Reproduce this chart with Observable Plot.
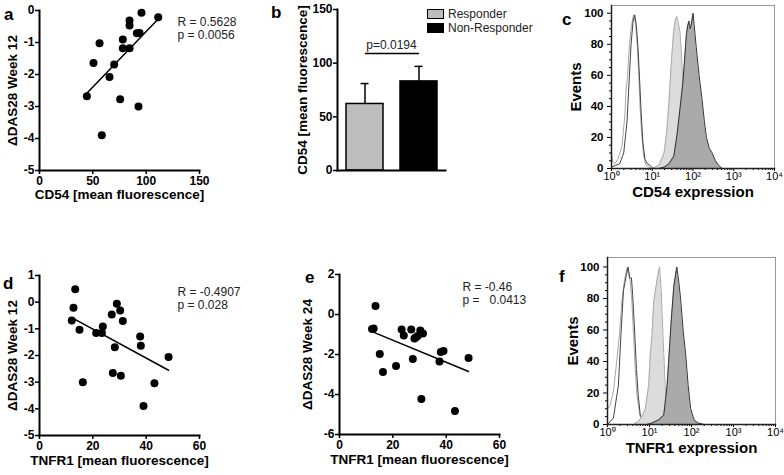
<!DOCTYPE html>
<html><head><meta charset="utf-8">
<script src="https://cdn.jsdelivr.net/npm/d3@7"></script>
<script src="https://cdn.jsdelivr.net/npm/@observablehq/plot@0.6"></script>
<style>
body{margin:0;background:#fff;font-family:"Liberation Sans",Arial,sans-serif;}
#fig{position:relative;width:784px;height:475px;overflow:hidden;background:#fff;}
.p{position:absolute;}
.p svg{overflow:visible;}
.lt{position:absolute;font-weight:bold;font-size:17px;color:#000;line-height:1;}
.lg{position:absolute;font-size:12px;color:#222;line-height:1;}
.sw{position:absolute;width:15px;height:8px;border:1.2px solid #000;}
</style></head><body><div id="fig"></div>
<script>
// ---------- data ----------
// panel a
const aCD54 = [44.4,50.6,56.3,58.4,65.6,70,75.6,78.1,78.1,84.4,84.4,84.4,91.3,93.8,92.8,95.6,111.3];
const aDAS12 = [-2.68,-1.64,-1.02,-3.9,-2.08,-1.69,-2.77,-1.18,-0.91,-0.31,-0.47,-1.18,-0.71,-0.70,-3.0,-0.07,-0.21];
const aStats = "R = 0.5628\np = 0.0056";
// panel b
const bGroups = ["Responder","Non-Responder"];
const bMeans = [62,83];
const bUpper = [81,97];
const bFills = ["#bdbdbd","#000000"];
const bBracket = 109;
const bP = "p=0.0194";
// panel c (x in log10 units of fluorescence, y in % events)
const cIsoALog = [0,0.03,0.08,0.16,0.26,0.33,0.36,0.39,0.44,0.49,0.54,0.59,0.63,0.67,0.70,0.74,0.79,0.85,0.96,1.05];
const cIsoAY   = [10,4,3,6,15,35,52,58,80,92,99,94,80,60,40,22,8,2,0.5,0];
const cIsoBLog = [0,0.1,0.2,0.3,0.38,0.43,0.48,0.53,0.57,0.61,0.65,0.69,0.73,0.77,0.82,0.88,0.95,1.0,1.05];
const cIsoBY   = [1,2,3,10,30,55,80,95,99,92,78,57,35,17,6,3,2,0.5,0];
const cLightLog = [1.0,1.16,1.29,1.35,1.41,1.46,1.52,1.56,1.60,1.64,1.68,1.72,1.76,1.80,1.85,1.90,2.0];
const cLightY   = [0,2,10,22,43,65,87,95,98,94,88,72,50,28,12,4,0];
const cDarkLog = [1.16,1.30,1.41,1.53,1.61,1.70,1.75,1.78,1.82,1.84,1.87,1.90,1.93,1.96,2.0,2.03,2.08,2.15,2.22,2.28,2.33,2.40,2.47,2.55,2.63,2.72];
const cDarkY   = [0,1,3,8,22,43,55,65,80,87,92,95,90,93,100,92,78,60,45,30,20,13,10,5,2,0];
// panel d
const dTNFR1 = [12.1,12.75,13.4,15,16.25,21.25,23.4,23.75,27.1,27.5,28.25,29,30.25,30.5,31.25,37.75,38,39,43.1,48.4];
const dDAS12 = [-0.69,-0.21,0.48,-1.03,-3.0,-1.16,-1.16,-0.91,-0.46,-2.66,-1.69,-0.06,-0.31,-2.76,-0.71,-1.29,-1.63,-3.89,-3.04,-2.06];
const dStats = "R = -0.4907\np = 0.028";
// panel e
const eTNFR1 = [12.2,12.8,13.5,15.1,16.3,21.2,23.3,24.1,26.9,27.5,28.1,28.6,29.3,30.3,30.7,31.3,37.5,38,39,43.3,48.4];
const eDAS24 = [-0.73,-0.7,0.43,-1.98,-2.88,-2.58,-0.75,-1.05,-0.75,-2.23,-1.2,-1.15,-1.08,-0.8,-4.22,-0.95,-2.35,-1.87,-1.82,-4.82,-2.18];
const eStats = "R = -0.46\np =   0.0413";
// panel f
const fIsoALog = [0,0.06,0.14,0.22,0.29,0.34,0.40,0.46,0.50,0.54,0.58,0.62,0.66,0.70,0.77,0.82,0.9];
const fIsoAY   = [10,12,21,40,59,78,91,99,96,91,78,57,35,19,6,2,0];
const fIsoBLog = [0,0.14,0.26,0.32,0.38,0.45,0.49,0.53,0.57,0.60,0.65,0.69,0.73,0.78,0.86,0.95];
const fIsoBY   = [0,4,25,57,85,95,100,93,93,82,57,35,19,6,1,0];
const fLightLog = [0.62,0.74,0.82,0.90,0.98,1.02,1.06,1.10,1.14,1.20,1.24,1.28,1.30,1.34,1.38,1.42,1.46,1.54];
const fLightY   = [0,2,5,10,25,45,57,78,85,95,100,85,70,45,20,8,3,0];
const fDarkLog = [0.94,1.06,1.22,1.34,1.42,1.47,1.52,1.58,1.65,1.70,1.74,1.80,1.86,1.92,1.98,2.06,2.15,2.3];
const fDarkY   = [0,1,3,6,25,46,67,88,100,90,80,60,45,25,10,3,1,0];
// tick values
const logMajor = [1,10,100,1000,10000];
const logMinor = [2,3,4,5,6,7,8,9,20,30,40,50,60,70,80,90,200,300,400,500,600,700,800,900,2000,3000,4000,5000,6000,7000,8000,9000];
const evTicks = [0,20,40,60,80,100];
const evMinor = [5,10,15,25,30,35,45,50,55,65,70,75,85,90,95];

// ---------- helpers ----------
const FONT = '"Liberation Sans", Arial, sans-serif';
const fig = document.getElementById("fig");
function put(node, left, top){ const d=document.createElement("div"); d.className="p"; d.style.left=left+"px"; d.style.top=top+"px"; d.appendChild(node); fig.appendChild(d); }
function letter(t, left, top){ const d=document.createElement("div"); d.className="lt"; d.style.left=left+"px"; d.style.top=top+"px"; d.textContent=t; fig.appendChild(d); }
const baseStyle = {fontFamily: FONT, fontSize:"12px", background:"transparent", overflow:"visible", color:"#000"};
const plain = d => String(d);

function scatter(o){
  const pts = o.xs.map((x,i)=>({x, y:o.ys[i]}));
  return Plot.plot({
    width:o.width, height:o.height, marginLeft:o.ml, marginRight:o.mr, marginTop:o.mt, marginBottom:o.mb,
    style: baseStyle,
    x:{domain:o.xDomain}, y:{domain:o.yDomain},
    marks:[
      Plot.axisX({ticks:o.xTicks, tickFormat:plain, tickSize:4, tickPadding:2, fontWeight:"bold", fontSize:12, label:null, strokeWidth:1.5}),
      Plot.axisY({ticks:o.yTicks, tickFormat:plain, tickSize:4, tickPadding:1, fontWeight:"bold", fontSize:12, label:null, strokeWidth:1.5}),
      Plot.frame({anchor:"left", strokeWidth:2}),
      Plot.frame({anchor:"bottom", strokeWidth:2}),
      Plot.dot(pts, {x:"x", y:"y", r:4, fill:"#000"}),
      Plot.linearRegressionY(pts, {x:"x", y:"y", ci:0, stroke:"#000", strokeWidth:1.5}),
      Plot.text([o.xLabel], {text:d=>d, frameAnchor:"bottom", textAnchor:"middle", dy:o.xLabelDy, fontWeight:"bold", fontSize:13.5}),
      Plot.text([o.yLabel], {text:d=>d, frameAnchor:"left", textAnchor:"middle", dx:o.yLabelDx, rotate:-90, fontWeight:"bold", fontSize:13.5}),
      Plot.text([o.stats], {text:d=>d, frameAnchor:"top-left", dx:o.statX, dy:o.statY, textAnchor:"start", lineAnchor:"top", lineHeight:1.1, fontSize:12, fill:"#222"})
    ]
  });
}

const sup = ["\u2070","\u00b9","\u00b2","\u00b3","\u2074"];
function histo(o){
  const mk = (lg, ys) => lg.map((v,i)=>({x:10**v, y:ys[i]}));
  const isoA = mk(o.isoALog,o.isoAY), isoB = mk(o.isoBLog,o.isoBY), light = mk(o.lightLog,o.lightY), dark = mk(o.darkLog,o.darkY);
  return Plot.plot({
    width:o.width, height:o.height, marginLeft:o.ml, marginRight:o.mr, marginTop:o.mt, marginBottom:o.mb,
    style: baseStyle,
    x:{type:"log", domain:[1,10000]}, y:{domain:o.yDomain},
    marks:[
      Plot.frame({stroke:"#999", strokeWidth:1}),
      Plot.lineY(isoA, {x:"x", y:"y", stroke:"#a8a8a8", strokeWidth:1}),
      Plot.lineY(isoB, {x:"x", y:"y", stroke:"#444", strokeWidth:1}),
      Plot.areaY(light, {x:"x", y:"y", fill:"#dcdcdc"}),
      Plot.lineY(light, {x:"x", y:"y", stroke:"#aaa", strokeWidth:1}),
      Plot.areaY(dark, {x:"x", y:"y", fill:"#aaaaaa"}),
      Plot.lineY(dark, {x:"x", y:"y", stroke:"#333", strokeWidth:1}),
      Plot.axisX({ticks:logMinor, tickSize:2, fill:"none", label:null, strokeWidth:1}),
      Plot.axisX({ticks:logMajor, tickSize:3, tickPadding:1, tickFormat:d=>"10"+sup[Math.round(Math.log10(d))], fontSize:11, label:null, strokeWidth:1}),
      Plot.axisY({ticks:evMinor, tickSize:2, fill:"none", label:null, strokeWidth:1}),
      Plot.axisY({ticks:evTicks, tickFormat:plain, tickSize:4, tickPadding:4, fontWeight:"bold", fontSize:11.5, label:null, strokeWidth:1}),
      Plot.frame({anchor:"left", strokeWidth:1.5, stroke:"#222"}),
      Plot.frame({anchor:"bottom", strokeWidth:1.5, stroke:"#222"}),
      Plot.text([o.xLabel], {text:d=>d, frameAnchor:"bottom", textAnchor:"middle", dy:o.xLabelDy, fontWeight:"bold", fontSize:15}),
      Plot.text(["Events"], {text:d=>d, frameAnchor:"left", textAnchor:"middle", dx:o.yLabelDx, rotate:-90, fontWeight:"bold", fontSize:15})
    ]
  });
}

// ---------- panel a ----------
put(scatter({xs:aCD54, ys:aDAS12, width:260, height:210, ml:39, mr:61, mt:10, mb:40,
  xDomain:[0,150], yDomain:[-5,0], xTicks:[0,50,100,150], yTicks:[-5,-4,-3,-2,-1,0],
  xLabel:"CD54 [mean fluorescence]", yLabel:"\u0394DAS28 Week 12", xLabelDy:28, yLabelDx:-27,
  stats:aStats, statX:138, statY:6}), 0, 0);
letter("a", 4, 6);

// ---------- panel b ----------
const bars = bGroups.map((g,i)=>({g, m:bMeans[i], u:bUpper[i], f:bFills[i]}));
put(Plot.plot({
  width:260, height:210, marginLeft:77, marginRight:75, marginTop:9, marginBottom:40,
  style: baseStyle,
  x:{domain:bGroups, paddingInner:0.315, paddingOuter:0.157, axis:null}, y:{domain:[0,150]},
  marks:[
    Plot.ruleX(bars, {x:"g", y1:"m", y2:"u", strokeWidth:1.5}),
    Plot.tickY(bars, {x:"g", y:"u", insetLeft:14.5, insetRight:14.5, strokeWidth:1.5}),
    Plot.barY(bars, {x:"g", y:"m", fill:"f", stroke:"#000", strokeWidth:1.5}),
    Plot.link([bBracket], {x1:()=>bGroups[0], x2:()=>bGroups[1], y1:d=>d, y2:d=>d, strokeWidth:1.5}),
    Plot.text([bP], {text:d=>d, frameAnchor:"top", textAnchor:"middle", dy:31, fontSize:12, fill:"#222"}),
    Plot.axisY({ticks:[0,50,100,150], tickFormat:plain, tickSize:4, tickPadding:1, fontWeight:"bold", fontSize:12, label:null, strokeWidth:1.5}),
    Plot.frame({anchor:"left", strokeWidth:2}),
    Plot.frame({anchor:"bottom", strokeWidth:2}),
    Plot.text(["CD54 [mean fluorescence]"], {text:d=>d, frameAnchor:"left", textAnchor:"middle", dx:-35, rotate:-90, fontWeight:"bold", fontSize:13.5})
  ]
}), 260, 0);
letter("b", 271, 4);
// legend
[[bGroups[0],bFills[0],9],[bGroups[1],bFills[1],23]].forEach(([t,f,y])=>{
  const s=document.createElement("div"); s.className="sw"; s.style.left="427px"; s.style.top=y+"px"; s.style.background=f; fig.appendChild(s);
  const l=document.createElement("div"); l.className="lg"; l.style.left="448px"; l.style.top=(y-1)+"px"; l.textContent=t; fig.appendChild(l);
});

// ---------- panel c ----------
put(histo({isoALog:cIsoALog, isoAY:cIsoAY, isoBLog:cIsoBLog, isoBY:cIsoBY, lightLog:cLightLog, lightY:cLightY, darkLog:cDarkLog, darkY:cDarkY,
  width:264, height:210, ml:91, mr:10, mt:5, mb:42, yDomain:[0,105], xLabel:"CD54 expression", xLabelDy:28, yLabelDx:-35}), 520, 0);
letter("c", 562, 11);

// ---------- panel d ----------
put(scatter({xs:dTNFR1, ys:dDAS12, width:260, height:225, ml:39, mr:61, mt:25, mb:40,
  xDomain:[0,60], yDomain:[-5,1], xTicks:[0,20,40,60], yTicks:[-5,-4,-3,-2,-1,0,1],
  xLabel:"TNFR1 [mean fluorescence]", yLabel:"\u0394DAS28 Week 12", xLabelDy:29, yLabelDx:-27,
  stats:dStats, statX:138, statY:11}), 0, 250);
letter("d", 3, 275);

// ---------- panel e ----------
put(scatter({xs:eTNFR1, ys:eDAS24, width:280, height:225, ml:79, mr:41, mt:24, mb:41,
  xDomain:[0,60], yDomain:[-6,2], xTicks:[0,20,40,60], yTicks:[-6,-4,-2,0,2],
  xLabel:"TNFR1 [mean fluorescence]", yLabel:"\u0394DAS28 Week 24", xLabelDy:29, yLabelDx:-32,
  stats:eStats, statX:123, statY:7}), 260, 250);
letter("e", 305, 269);

// ---------- panel f ----------
put(histo({isoALog:fIsoALog, isoAY:fIsoAY, isoBLog:fIsoBLog, isoBY:fIsoBY, lightLog:fLightLog, lightY:fLightY, darkLog:fDarkLog, darkY:fDarkY,
  width:244, height:225, ml:67, mr:9, mt:7, mb:51, yDomain:[0,106], xLabel:"TNFR1 expression", xLabelDy:28, yLabelDx:-34}), 540, 250);
letter("f", 559, 268);
</script></body></html>
